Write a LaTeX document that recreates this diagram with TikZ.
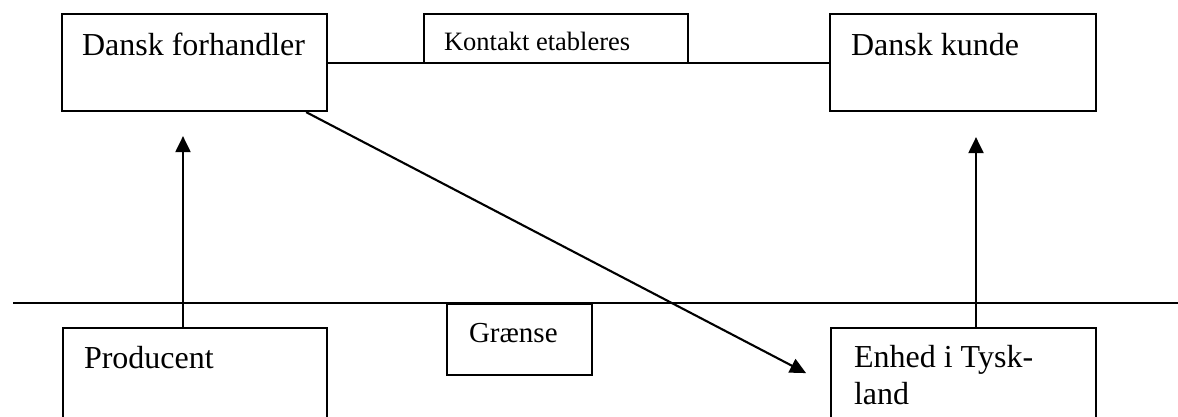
\documentclass[tikz,border=0pt]{standalone}
\usepackage{fontspec}
\setmainfont{Liberation Serif}
\usetikzlibrary{arrows.meta}
\begin{document}
\begin{tikzpicture}[x=1pt, y=-1pt,
  box/.style={draw, line width=2.1pt, inner ysep=0pt, align=flush left, anchor=north west,
    execute at begin node={\spaceskip=0pt\xspaceskip=0pt\hyphenpenalty=10000\relax}},
  big/.style={font=\fontsize{32}{37}\selectfont},
  link/.style={line width=2.1pt},
  flow/.style={line width=2.1pt, -{Triangle[length=16pt, width=15pt]}}]
  \useasboundingbox (0,0) rectangle (1178,416);
  \clip (0,0) rectangle (1178,416);

  % upper row (Denmark side)
  \node[box, big, inner xsep=20pt, text width=225pt, text height=41pt, text depth=56pt]
    (df) at (61,13) {Dansk forhandler};
  \node[box, big, inner xsep=21pt, text width=224pt, text height=41pt, text depth=56pt]
    (dk) at (829,13) {Dansk kunde};

  % contact line with its label box on top
  \draw[link] (df.east) -- (dk.west);
  \node[box, font=\fontsize{26.5}{31}\selectfont, inner xsep=20pt, text width=224pt,
        text height=36pt, text depth=13pt]
    (ke) at (423,13) {Kontakt etableres};

  % border line
  \coordinate (bl) at (13,303);
  \coordinate (br) at (1178,303);
  \draw[link] (bl) -- (br);
  \node[box, font=\fontsize{29}{34}\selectfont, inner xsep=22pt, text width=101pt,
        text height=38pt, text depth=33pt]
    (gr) at (446,303) {Grænse};

  % lower row (below the border)
  \node[box, big, inner xsep=21pt, text width=222pt, text height=40pt, text depth=73pt]
    (pr) at (62,327) {Producent};
  \node[box, big, inner xsep=23pt, text width=219pt, text height=39pt, text depth=74pt]
    (en) at (830,327) {Enhed i Tysk-\\land};

  % flows
  \draw[flow, shorten >=24pt] (pr.north -| 183,0) -- (df.south -| 183,0);
  \draw[flow, shorten >=25pt] (en.north -| 976,0) -- (dk.south -| 976,0);
  \draw[flow, shorten >=27pt] ([xshift=-22pt]df.south east) -- ([yshift=-58.6pt]en.north west);
\end{tikzpicture}
\end{document}
